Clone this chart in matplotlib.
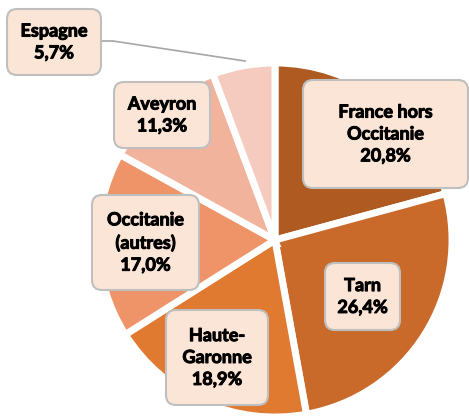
import matplotlib
matplotlib.use("Agg")
import matplotlib.pyplot as plt
from matplotlib.patches import FancyBboxPatch
import matplotlib.patheffects as pe

categories = ["France hors\nOccitanie", "Tarn", "Haute-\nGaronne", "Occitanie\n(autres)", "Aveyron", "Espagne"]
values = [20.8, 26.4, 18.9, 17.0, 11.3, 5.7]
colors = ["#AE5A21", "#C96A2B", "#E07A31", "#EF9468", "#F1B39B", "#F5CBBF"]

W, H = 469, 416
fig = plt.figure(figsize=(W / 100, H / 100), dpi=100)
ax = fig.add_axes([0, 0, 1, 1])

def Y(y):
    return H - y

cx, cy, r = 275, 240, 177
ax.pie(values, colors=colors, startangle=90, counterclock=False,
       center=(cx, Y(cy)), radius=r, explode=[0.032] * len(values),
       wedgeprops=dict(linewidth=5, edgecolor="white"))

ax.set_xlim(0, W)
ax.set_ylim(0, H)
ax.set_aspect("equal")
ax.axis("off")

# label boxes (pixel rectangles: x0, y0, x1, y1)
boxes = [(303, 80, 468, 188), (325, 263, 400, 330), (166, 310, 268, 405),
         (92, 195, 199, 290), (114, 82, 210, 148), (7, 9, 101, 75)]

# leader line for Espagne
ax.plot([101, 113, 245], [Y(41), Y(41), Y(61)], color="#A6A6A6", lw=1.2, zorder=3)

for cat, val, (x0, y0, x1, y1) in zip(categories, values, boxes):
    p = FancyBboxPatch((x0 + 6, Y(y1) + 6), (x1 - x0) - 12, (y1 - y0) - 12,
                       boxstyle="round,pad=6,rounding_size=10",
                       facecolor="#FBE5D6", edgecolor="#BFBFBF", lw=1.5, zorder=4)
    ax.add_patch(p)
    label = f"{cat}\n{val:.1f}%".replace(".", ",")
    ax.text((x0 + x1) / 2, Y((y0 + y1) / 2), label, ha="center", va="center",
            fontsize=13, fontweight="bold", family="Lato", linespacing=1.35,
            color="black", zorder=5,
            path_effects=[pe.withStroke(linewidth=0.7, foreground="black")])

fig.savefig("out.png", dpi=100)
